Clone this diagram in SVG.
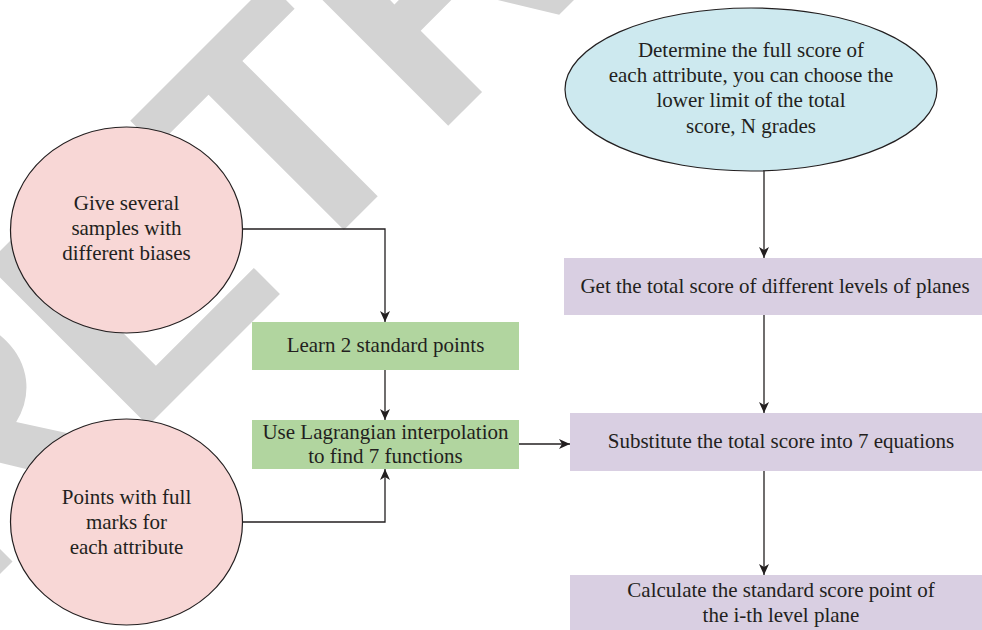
<svg xmlns="http://www.w3.org/2000/svg" width="982" height="630" viewBox="0 0 982 630">
<style>
.t{font-family:"Liberation Serif","Times New Roman",serif;font-size:21px;fill:#231f20;text-anchor:middle}
.wm{font-family:"Liberation Sans",Arial,sans-serif;font-weight:bold;font-size:332px;fill:#d3d3d3}
.pink{fill:#f8d7d6;stroke:#231f20;stroke-width:1.2}
.blue{fill:#cde9ef;stroke:#231f20;stroke-width:1.2}
.green{fill:#b1d59f}
.purple{fill:#d9cfe2}
.c{fill:none;stroke:#231f20;stroke-width:1.3}
</style>
<defs>
<marker id="ah" markerUnits="userSpaceOnUse" markerWidth="12" markerHeight="12" viewBox="0 0 12 12" refX="11" refY="6" orient="auto">
<path d="M0,1 L11,6 L0,11 L3,6 z" fill="#231f20"/>
</marker>
</defs>
<rect width="982" height="630" fill="#ffffff"/>
<text class="wm" transform="translate(-37,611) rotate(-45)">RETRACTED</text>
<g id="connectors">
<path class="c" d="M243,229 H385 V322" marker-end="url(#ah)"/>
<path class="c" d="M385,370 V420" marker-end="url(#ah)"/>
<path class="c" d="M243,522 H385 V469" marker-end="url(#ah)"/>
<path class="c" d="M519,444 H570" marker-end="url(#ah)"/>
<path class="c" d="M764,171 V258" marker-end="url(#ah)"/>
<path class="c" d="M764,315 V413" marker-end="url(#ah)"/>
<path class="c" d="M764,471 V575" marker-end="url(#ah)"/>
</g>
<g id="n1">
<ellipse class="pink" cx="126.5" cy="230" rx="116" ry="103"/>
<text class="t" x="126.5" y="210">Give several</text>
<text class="t" x="126.5" y="235">samples with</text>
<text class="t" x="126.5" y="260">different biases</text>
</g>
<g id="n2">
<ellipse class="pink" cx="126.5" cy="522" rx="116" ry="103"/>
<text class="t" x="126.5" y="504">Points with full</text>
<text class="t" x="126.5" y="529">marks for</text>
<text class="t" x="126.5" y="554">each attribute</text>
</g>
<g id="n3">
<rect class="green" x="252" y="322" width="267" height="48"/>
<text class="t" x="385.5" y="352">Learn 2 standard points</text>
</g>
<g id="n4">
<rect class="green" x="252" y="420" width="267" height="49"/>
<text class="t" x="385.5" y="439">Use Lagrangian interpolation</text>
<text class="t" x="385.5" y="463">to find 7 functions</text>
</g>
<g id="n5">
<ellipse class="blue" cx="751" cy="89.5" rx="186" ry="81.5"/>
<text class="t" x="751" y="57">Determine the full score of</text>
<text class="t" x="751" y="82">each attribute, you can choose the</text>
<text class="t" x="751" y="107">lower limit of the total</text>
<text class="t" x="751" y="133">score, N grades</text>
</g>
<g id="n6">
<rect class="purple" x="564" y="258" width="418" height="57"/>
<text class="t" x="775" y="293">Get the total score of different levels of planes</text>
</g>
<g id="n7">
<rect class="purple" x="570" y="413" width="412" height="58"/>
<text class="t" x="781" y="448">Substitute the total score into 7 equations</text>
</g>
<g id="n8">
<rect class="purple" x="570" y="575" width="412" height="55"/>
<text class="t" x="781" y="597">Calculate the standard score point of</text>
<text class="t" x="781" y="622">the i-th level plane</text>
</g>
</svg>
